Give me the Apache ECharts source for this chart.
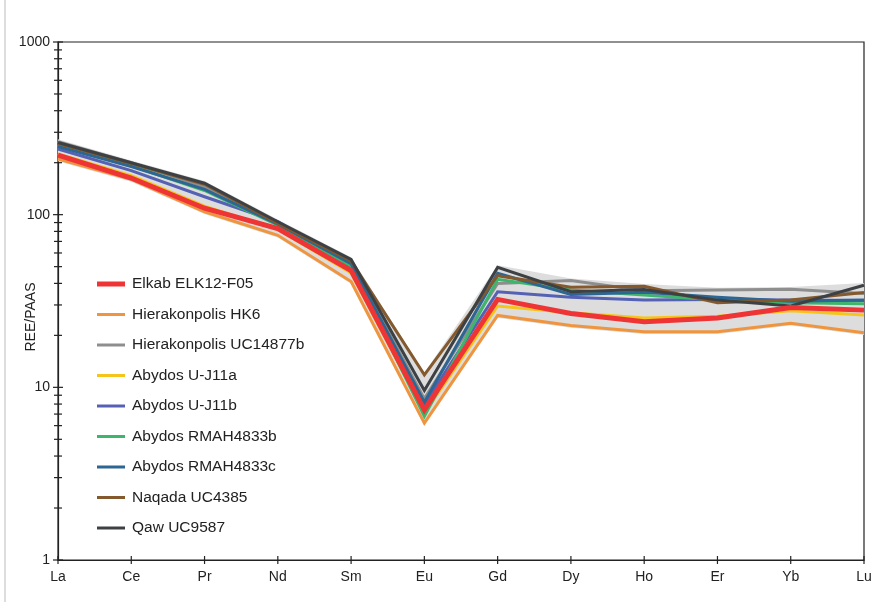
<!DOCTYPE html>
<html>
<head>
<meta charset="utf-8">
<script src="https://cdn.jsdelivr.net/npm/echarts@6/dist/echarts.min.js"></script>
<style>
  html, body { margin: 0; padding: 0; background: #fff; }
  #chart { width: 887px; height: 612px; }
</style>
</head>
<body>
<div id="chart"></div>
<script>
// REE elements along the x axis
const elements = ['La', 'Ce', 'Pr', 'Nd', 'Sm', 'Eu', 'Gd', 'Dy', 'Ho', 'Er', 'Yb', 'Lu'];

// REE/PAAS values per sample
const elkab = [221, 163, 109, 83, 47.5, 7.4, 32.3, 26.8, 24, 25.2, 29, 28];
const hierakonpolisHK6 = [210, 160, 104, 76, 41, 6.2, 26.1, 22.8, 21, 21, 23.5, 20.7];
const hierakonpolisUC = [265, 200, 145, 90, 53, 8.6, 40, 41.5, 36.3, 36.6, 37, 35];
const abydosUJ11a = [225, 168, 112, 82, 46, 7.1, 29.6, 27, 25.2, 25.8, 27.8, 26.2];
const abydosUJ11b = [240, 180, 127, 91, 50, 8.0, 35.8, 33.2, 32, 32.3, 32, 31.8];
const abydosRMAHb = [253, 192, 138, 87, 50.5, 6.8, 42.2, 36.6, 34.2, 32, 30.9, 30.5];
const abydosRMAHc = [248, 190, 140, 88, 52, 8.2, 45.7, 34.5, 35.5, 33.2, 31.5, 32];
const naqada = [258, 198, 150, 89, 54, 11.8, 44.3, 38, 38.5, 30.9, 32, 35.4];
const qaw = [262, 200, 152, 91, 55, 9.6, 49.5, 35.8, 36.9, 32, 29.6, 39];

// y axis ticks
const majorTicks = [1, 10, 100, 1000];
const minorTicks = [2, 3, 4, 5, 6, 7, 8, 9, 20, 30, 40, 50, 60, 70, 80, 90, 200, 300, 400, 500, 600, 700, 800, 900];

const samples = [
  { name: 'Elkab ELK12-F05', data: elkab, color: '#ee3434', width: 5 },
  { name: 'Hierakonpolis HK6', data: hierakonpolisHK6, color: '#f0953f', width: 3 },
  { name: 'Hierakonpolis UC14877b', data: hierakonpolisUC, color: '#8e8e8e', width: 3 },
  { name: 'Abydos U-J11a', data: abydosUJ11a, color: '#f5c51c', width: 3 },
  { name: 'Abydos U-J11b', data: abydosUJ11b, color: '#5461b4', width: 3 },
  { name: 'Abydos RMAH4833b', data: abydosRMAHb, color: '#3db56c', width: 3 },
  { name: 'Abydos RMAH4833c', data: abydosRMAHc, color: '#2d6593', width: 3 },
  { name: 'Naqada UC4385', data: naqada, color: '#84592d', width: 3 },
  { name: 'Qaw UC9587', data: qaw, color: '#3e4144', width: 3 }
];

// envelope of all samples for the grey band
const bandMin = elements.map((e, i) => Math.min(...samples.map(s => s.data[i])) * 0.97);
const bandMax = elements.map((e, i) => Math.max(...samples.map(s => s.data[i])) * 1.03);
const bandDiff = bandMax.map((v, i) => v - bandMin[i]);

const chart = echarts.init(document.getElementById('chart'));

const lineSeries = samples.map((s, idx) => ({
  name: s.name,
  type: 'line',
  data: s.data,
  symbol: 'none',
  z: idx === 0 ? 5 : 3,
  lineStyle: { color: s.color, width: s.width, join: 'miter' },
  itemStyle: { color: s.color },
  emphasis: { disabled: true }
}));

const option = {
  animation: false,
  backgroundColor: '#fff',
  textStyle: { fontFamily: 'Liberation Sans, Arial, sans-serif' },
  grid: {
    left: 58, right: 23, top: 42, bottom: 52,
    outerBoundsMode: 'none', containLabel: false,
    show: true, borderColor: '#222', borderWidth: 1.2, backgroundColor: 'transparent'
  },
  legend: {
    orient: 'vertical',
    left: 97,
    top: 276,
    padding: 0,
    itemWidth: 28,
    itemHeight: 14,
    itemGap: 14.5,
    data: samples.map(s => ({
      name: s.name,
      icon: 'path://M0,0H28V' + s.width + 'H0Z',
      itemStyle: { color: s.color }
    })),
    textStyle: { fontSize: 15.5, color: '#222', padding: [0, 0, 0, 2] },
    selectedMode: false
  },
  xAxis: {
    type: 'category',
    data: elements,
    boundaryGap: false,
    axisLine: { lineStyle: { color: '#222', width: 1.2 } },
    axisTick: { show: false },
    axisLabel: { color: '#222', fontSize: 14, margin: 10 },
    splitLine: { show: false }
  },
  yAxis: {
    type: 'log',
    logBase: 10,
    min: 1,
    max: 1000,
    splitNumber: 3,
    name: 'REE/PAAS',
    nameLocation: 'middle',
    nameGap: 20,
    nameMoveOverlap: false,
    nameTextStyle: { color: '#222', fontSize: 14, padding: [0, 32, 0, 0] },
    axisLine: { show: true, lineStyle: { color: '#222', width: 1.2 } },
    axisTick: { show: false },
    axisLabel: { color: '#222', fontSize: 14, margin: 8, formatter: v => String(v) },
    splitLine: { show: false }
  },
  graphic: [
    { type: 'line', shape: { x1: 5, y1: 0, x2: 5, y2: 602 }, style: { stroke: '#bbb', lineWidth: 1 } }
  ],
  series: [
    {
      name: 'bandLow', type: 'line', stack: 'band', data: bandMin, symbol: 'none',
      lineStyle: { opacity: 0 }, silent: true, z: 1
    },
    {
      name: 'bandHigh', type: 'line', stack: 'band', data: bandDiff, symbol: 'none',
      lineStyle: { opacity: 0 }, areaStyle: { color: '#dcdddc', opacity: 1 }, silent: true, z: 1
    },
    ...lineSeries.slice(1),
    lineSeries[0],
    {
      name: 'yTicks', type: 'custom', silent: true, clip: false, z: 10,
      data: majorTicks.map(v => [0, v, 5]).concat(minorTicks.map(v => [0, v, 4])),
      renderItem: (params, api) => {
        const p = api.coord([api.value(0), api.value(1)]);
        const len = api.value(2);
        return {
          type: 'line',
          shape: { x1: p[0] - len, y1: p[1], x2: p[0] + len, y2: p[1] },
          style: { stroke: '#222', lineWidth: 1.2 }
        };
      }
    },
    {
      name: 'xTicks', type: 'custom', silent: true, clip: false, z: 10,
      data: elements.map((e, i) => [i, 1]),
      renderItem: (params, api) => {
        const p = api.coord([api.value(0), api.value(1)]);
        return {
          type: 'line',
          shape: { x1: p[0], y1: p[1] - 4, x2: p[0], y2: p[1] + 4 },
          style: { stroke: '#222', lineWidth: 1.2 }
        };
      }
    }
  ]
};

chart.setOption(option);
</script>
</body>
</html>
